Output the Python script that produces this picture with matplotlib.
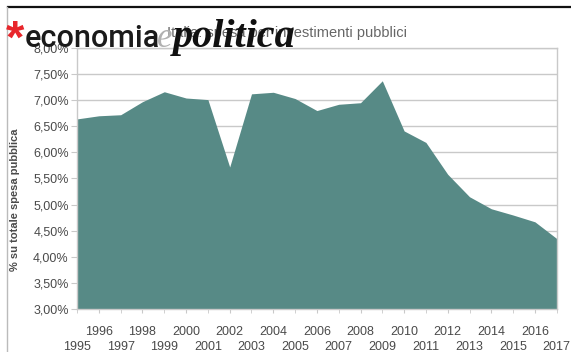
import numpy as np
import matplotlib
matplotlib.use('Agg')
import matplotlib.pyplot as plt
from matplotlib.lines import Line2D

# data
years = list(range(1995, 2018))
share = [6.64, 6.70, 6.72, 6.97, 7.16, 7.04, 7.01, 5.72, 7.12, 7.15, 7.03, 6.80,
         6.92, 6.95, 7.37, 6.41, 6.19, 5.58, 5.15, 4.92, 4.80, 4.67, 4.35]
y_ticks = [3.0, 3.5, 4.0, 4.5, 5.0, 5.5, 6.0, 6.5, 7.0, 7.5, 8.0]

TEAL = '#578a86'
GRID = '#c9c9c9'
TXT = '#4a4a4a'

plt.rcParams['font.family'] = ['Liberation Sans', 'DejaVu Sans']

fig = plt.figure(figsize=(5.71, 3.52), dpi=100)
ax = fig.add_axes([0.135, 0.122, 0.840, 0.742])

ax.fill_between(years, 3.0, share, color=TEAL, linewidth=0, zorder=2)
ax.set_xlim(1995, 2017)
ax.set_ylim(3.0, 8.0)

ax.set_yticks(y_ticks)
ax.set_yticklabels([('%.2f%%' % v).replace('.', ',') for v in y_ticks],
                   fontsize=9, color=TXT)
ax.yaxis.grid(True, color=GRID, linewidth=1, zorder=0)
ax.set_axisbelow(True)

even = [y for y in years if y % 2 == 0]
odd = [y for y in years if y % 2 == 1]
ax.set_xticks(even)
ax.set_xticklabels([str(y) for y in even], fontsize=9, color=TXT)
ax.set_xticks(odd, minor=True)
ax.set_xticklabels([str(y) for y in odd], minor=True, fontsize=9, color=TXT)
ax.tick_params(axis='x', which='major', length=3, pad=9, color=GRID)
ax.tick_params(axis='x', which='minor', length=3, pad=20, color=GRID)
ax.tick_params(axis='y', length=4, pad=2, color=GRID)

for s in ax.spines.values():
    s.set_color(GRID)
    s.set_linewidth(1)

ax.set_ylabel('% su totale spesa pubblica', fontsize=8, color=TXT,
              fontweight='bold')
ax.yaxis.set_label_coords(-0.118, 0.42)

# title, partly covered by the logo as in the source
fig.text(0.292, 0.905, 'Italia: spesa per investimenti pubblici', fontsize=10.5,
         color='#666666', va='center', ha='left')

# logo
fig.text(0.011, 0.885, '*', fontsize=34, color='#e8262b', fontweight='bold',
         va='center', ha='left')
fig.text(0.044, 0.866, 'economia', fontsize=22, color='#1a1a1a',
         family=['Roboto', 'Liberation Sans'], fontweight='medium',
         va='baseline', ha='left')
fig.text(0.274, 0.866, 'e', fontsize=25, color='#b0b0b0', style='italic',
         family='Liberation Serif', va='baseline', ha='left')
fig.text(0.302, 0.866, 'politica', fontsize=29, color='#111111', style='italic',
         fontweight='bold', family='Liberation Serif', va='baseline', ha='left')

# page frame
fig.add_artist(Line2D([0.014, 1.0], [0.980, 0.980], color='#111111',
                      linewidth=1.6, transform=fig.transFigure))
fig.add_artist(Line2D([0.013, 0.013], [0.0, 0.980], color='#bbbbbb',
                      linewidth=1.0, transform=fig.transFigure))

fig.savefig('out.png', dpi=100, facecolor='white')
